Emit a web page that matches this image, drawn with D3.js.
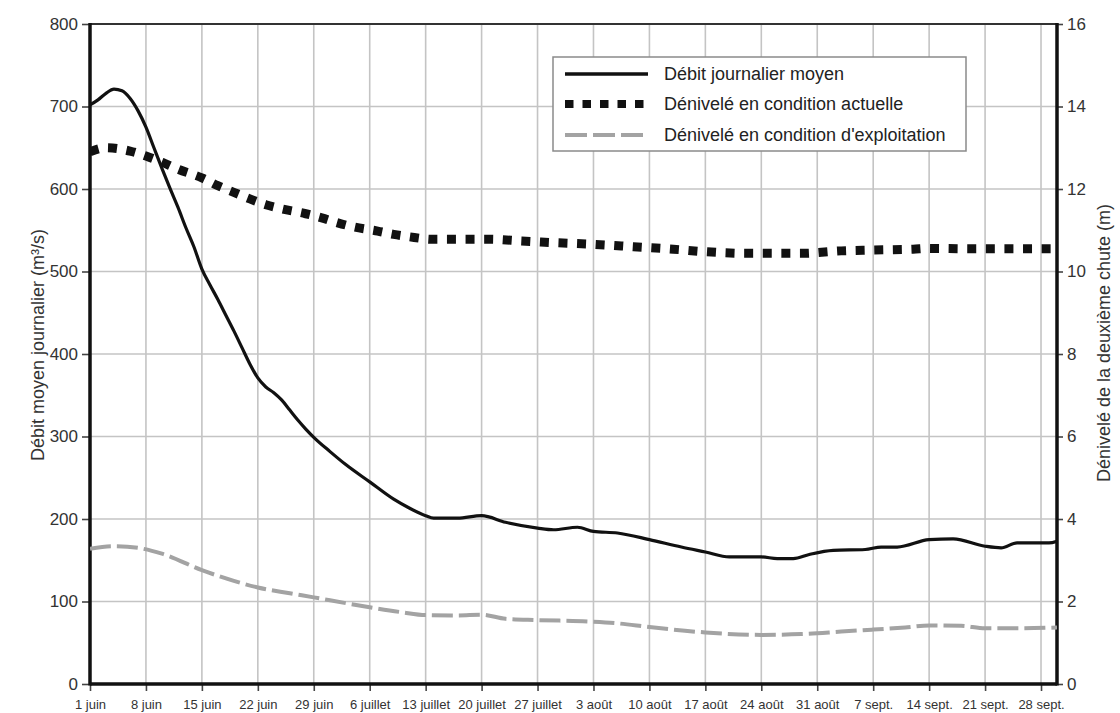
<!DOCTYPE html>
<html><head><meta charset="utf-8">
<script src="https://cdn.jsdelivr.net/npm/d3@7/dist/d3.min.js"></script>
<style>html,body{margin:0;padding:0;background:#fff;}svg{display:block;}</style>
</head><body>
<svg id="c" width="1120" height="713"></svg>
<script>
// ---- data ----
const tickDays = [0,7,14,21,28,35,42,49,56,63,70,77,84,91,98,105,112,119];
const tickLabels = ["1 juin","8 juin","15 juin","22 juin","29 juin","6 juillet","13 juillet","20 juillet","27 juillet","3 août","10 août","17 août","24 août","31 août","7 sept.","14 sept.","21 sept.","28 sept."];
const leftTicks = [0,100,200,300,400,500,600,700,800];
const rightTicks = [0,2,4,6,8,10,12,14,16];

const debitDays   = [0,1,2,3,4,5,6,7,8,9,10,11,12,13,14,15,16,17,18,19,20,21,22,23,24,25,26,27,28,30,32,35,38,40,42,43,46,49,52,56,58,61,63,66,70,74,77,80,84,86,88,90,93,97,99,101,105,108,112,114,116,120,121];
const debitValues = [702,708,716,721,719,710,695,675,650,625,601,578,553,530,503,484,466,447,428,408,388,371,360,353,344,332,320,309,299,282,266,245,224,213,204,201,201,204,196,189,187,190,185,183,175,166,160,154,154,152,152,157,162,163,166,166,175,176,167,165,171,171,173];

const actDays   = [0,2,5,7,9,11,14,16,18,20,22,24,27,29,31,33,36,38,40,43,50,54,58,63,68,73,77,82,89,94,98,103,105,110,114,121];
const actValues = [12.9,13.0,12.92,12.8,12.65,12.48,12.27,12.08,11.92,11.76,11.62,11.52,11.4,11.3,11.18,11.08,10.98,10.9,10.84,10.78,10.78,10.74,10.7,10.66,10.6,10.54,10.48,10.44,10.44,10.5,10.52,10.54,10.56,10.55,10.55,10.55];

const expDays   = [0,3,6,9,14,18,21,25,28,32,35,39,42,46,49,52,56,63,66,70,77,84,89,94,98,102,105,109,112,116,121];
const expValues = [3.28,3.34,3.3,3.16,2.76,2.5,2.34,2.2,2.1,1.96,1.86,1.74,1.67,1.66,1.68,1.58,1.55,1.51,1.47,1.38,1.25,1.19,1.21,1.27,1.32,1.37,1.42,1.41,1.35,1.35,1.37];

const legendLabels = ["Débit journalier moyen","Dénivelé en condition actuelle","Dénivelé en condition d'exploitation"];

// ---- layout ----
const L = 90, R = 1057, T = 24, B = 684;
const svg = d3.select("#c");
const x = d3.scaleLinear().domain([0,121]).range([L,R]);
const yL = d3.scaleLinear().domain([0,800]).range([B,T]);
const yR = d3.scaleLinear().domain([0,16]).range([B,T]);
const font = "'Liberation Sans', Arial, Helvetica, sans-serif";

// grid
const g = svg.append("g");
g.selectAll("line.v").data(tickDays.slice(1)).join("line")
  .attr("x1",d=>x(d)).attr("x2",d=>x(d)).attr("y1",T).attr("y2",B)
  .attr("stroke","#c4c4c4").attr("stroke-width",1.6);
g.selectAll("line.h").data(leftTicks.slice(1,-1)).join("line")
  .attr("x1",L).attr("x2",R).attr("y1",d=>yL(d)).attr("y2",d=>yL(d))
  .attr("stroke","#c4c4c4").attr("stroke-width",1.6);

// axes
const axL = d3.axisLeft(yL).tickValues(leftTicks).tickSize(8).tickPadding(4);
const aL = svg.append("g").attr("transform",`translate(${L},0)`).call(axL);
const axR = d3.axisRight(yR).tickValues(rightTicks).tickSize(6).tickPadding(4);
const aR = svg.append("g").attr("transform",`translate(${R},0)`).call(axR);
const axB = d3.axisBottom(x).tickValues(tickDays).tickFormat((d,i)=>tickLabels[i]).tickSize(7).tickPadding(9);
const aB = svg.append("g").attr("transform",`translate(0,${B})`).call(axB);
[aL,aR,aB].forEach(a=>{
  a.select(".domain").remove();
  a.selectAll(".tick line").attr("stroke","#444").attr("stroke-width",1.6);
  a.selectAll(".tick text").attr("fill","#333").style("font-family",font);
});
aL.selectAll(".tick text").style("font-size","17px");
aR.selectAll(".tick text").style("font-size","17px");
aB.selectAll(".tick text").style("font-size","13px").style("font-family","'Liberation Sans Narrow','Arial Narrow',"+font);

// frame
svg.append("line").attr("x1",L).attr("x2",R).attr("y1",T).attr("y2",T).attr("stroke","#333").attr("stroke-width",2);
svg.append("line").attr("x1",L).attr("x2",L).attr("y1",T-1).attr("y2",B+1.5).attr("stroke","#111").attr("stroke-width",3.5);
svg.append("line").attr("x1",R).attr("x2",R).attr("y1",T-1).attr("y2",B+1.5).attr("stroke","#111").attr("stroke-width",3.5);
svg.append("line").attr("x1",L).attr("x2",R).attr("y1",B).attr("y2",B).attr("stroke","#111").attr("stroke-width",3.5);

// series
svg.append("clipPath").attr("id","clp").append("rect").attr("x",L).attr("y",T).attr("width",R-L).attr("height",B-T);
const lineL = d3.line().x(d=>x(d[0])).y(d=>yL(d[1])).curve(d3.curveMonotoneX);
const lineR = d3.line().x(d=>x(d[0])).y(d=>yR(d[1])).curve(d3.curveMonotoneX);
const zip = (a,b)=>a.map((v,i)=>[v,b[i]]);

const styles = [
  {stroke:"#111", w:3.2, dash:null},
  {stroke:"#111", w:9, dash:"9 9.6"},
  {stroke:"#a3a3a3", w:4, dash:"21 6"}
];
const sg = svg.append("g").attr("clip-path","url(#clp)");
sg.append("path").attr("d",lineR(zip(expDays,expValues))).attr("fill","none")
  .attr("stroke",styles[2].stroke).attr("stroke-width",styles[2].w).attr("stroke-dasharray",styles[2].dash);
sg.append("path").attr("d",lineR(zip(actDays,actValues))).attr("fill","none")
  .attr("stroke",styles[1].stroke).attr("stroke-width",styles[1].w).attr("stroke-dasharray",styles[1].dash);
sg.append("path").attr("d",lineL(zip(debitDays,debitValues))).attr("fill","none")
  .attr("stroke",styles[0].stroke).attr("stroke-width",styles[0].w).attr("stroke-linejoin","round");

// axis titles
svg.append("text").attr("transform",`translate(44,345) rotate(-90)`).attr("text-anchor","middle")
  .style("font-family",font).style("font-size","18px").attr("fill","#333").text("Débit moyen journalier (m³/s)");
svg.append("text").attr("transform",`translate(1110,343) rotate(-90)`).attr("text-anchor","middle")
  .style("font-family",font).style("font-size","18px").attr("fill","#333").text("Dénivelé de la deuxième chute (m)");

// legend
const lg = svg.append("g");
lg.append("rect").attr("x",553).attr("y",57).attr("width",413).attr("height",94)
  .attr("fill","#fff").attr("stroke","#8a8a8a").attr("stroke-width",1.5);
const rows = [74,104,135];
legendLabels.forEach((t,i)=>{
  lg.append("line").attr("x1",565).attr("x2",648).attr("y1",rows[i]).attr("y2",rows[i])
    .attr("stroke",styles[i].stroke).attr("stroke-width",i==1?8:(i==2?4:3.5)).attr("stroke-dasharray",i==1?"8.5 9":(i==2?"22 6":null));
  lg.append("text").attr("x",664).attr("y",rows[i]).attr("dy","0.35em")
    .style("font-family",font).style("font-size","18px").attr("fill","#222").text(t);
});
</script>
</body></html>
